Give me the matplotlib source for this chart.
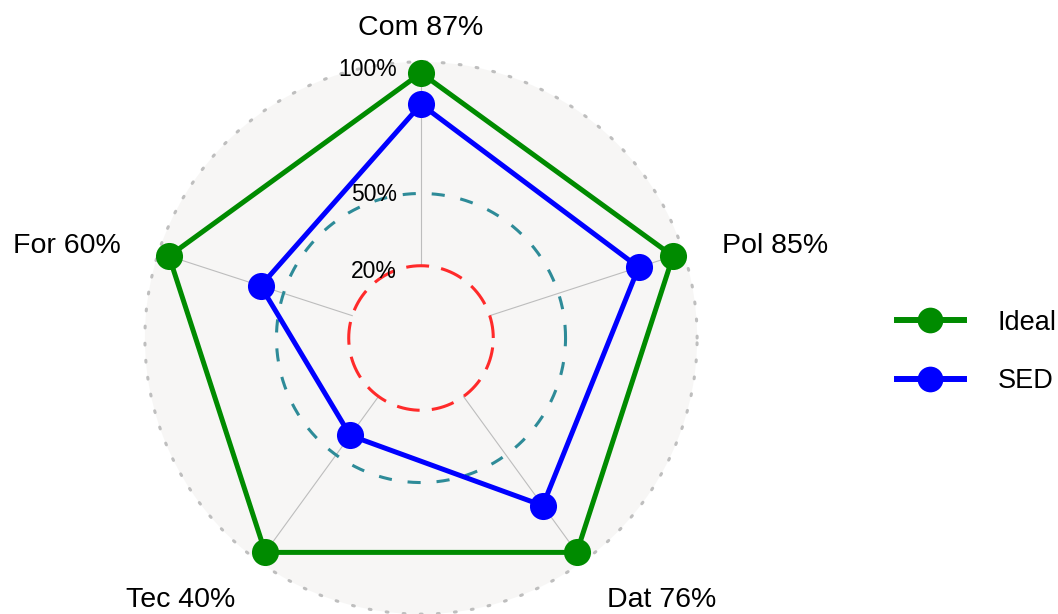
import numpy as np
import matplotlib
matplotlib.use("Agg")
import matplotlib.pyplot as plt
from matplotlib.lines import Line2D
from matplotlib.patches import Circle

# ---- data ----
axes_names = ["Com", "Pol", "Dat", "Tec", "For"]
series_names = ["Ideal", "SED"]
ideal_vals = [1.00, 1.00, 1.00, 1.00, 1.00]
sed_vals = [0.87, 0.85, 0.76, 0.40, 0.60]
grid_vals = [0.20, 0.50, 1.00]
grid_labels = ["20%", "50%", "100%"]

plt.rcParams['font.family'] = ['Liberation Sans', 'DejaVu Sans']

W, H, DPI = 1058, 614, 100
fig = plt.figure(figsize=(W / DPI, H / DPI), dpi=DPI)
ax = fig.add_axes([0, 0, 1, 1])
ax.set_axis_off()

centre = -0.10           # radial value mapped to the centre
R_px = 265.0             # pixel radius of 100%
s = R_px / (1 - centre)  # pixels per unit
cx, cy = 421.0, 338.0
ax.set_xlim(-cx / s, (W - cx) / s)
ax.set_ylim(-(H - cy) / s, cy / s)

def rad(v):
    return np.asarray(v) - centre

n = len(axes_names)
ang = np.pi / 2 - 2 * np.pi * np.arange(n) / n

# background circle
outer = rad(1.0) * 1.042
ax.add_patch(Circle((0, 0), outer, facecolor="#D7D6D1", alpha=0.2, edgecolor="none", zorder=0))
t = np.linspace(0, 2 * np.pi, 600)
ax.plot(outer * np.cos(t), outer * np.sin(t), color="#BEBEBE", lw=2.2,
        linestyle=(0, (0.6, 5.0)), dash_capstyle="round", zorder=1)

# axis lines
for a in ang:
    ax.plot([rad(grid_vals[0]) * np.cos(a), rad(1.0) * np.cos(a)],
            [rad(grid_vals[0]) * np.sin(a), rad(1.0) * np.sin(a)],
            color="#BDBDBD", lw=0.8, zorder=1)

# grid circles
ax.plot(rad(grid_vals[0]) * np.cos(t), rad(grid_vals[0]) * np.sin(t), color="#FF2A2A",
        lw=2.2, linestyle=(0, (7.5, 4)), zorder=2)
ax.plot(rad(grid_vals[1]) * np.cos(t), rad(grid_vals[1]) * np.sin(t), color="#2E8B98",
        lw=2.2, linestyle=(0, (4.3, 5.2)), zorder=2)

# grid labels
label_dy = [-0.022, -0.006, 0.016]
for v, lab, dy in zip(grid_vals, grid_labels, label_dy):
    ax.text(-0.1, rad(v) + dy, lab, ha="right", va="center", fontsize=16.5, zorder=5)

# series
colors = ["#008B00", "#0000FF"]
for vals, col, name in zip([ideal_vals, sed_vals], colors, series_names):
    r = rad(vals)
    x = np.append(r * np.cos(ang), r[0] * np.cos(ang[0]))
    y = np.append(r * np.sin(ang), r[0] * np.sin(ang[0]))
    ax.plot(x, y, color=col, lw=3.6, zorder=3)
    ax.plot(x[:-1], y[:-1], 'o', color=col, ms=19.5, mew=0, zorder=4)

# axis labels
lab_r = 316 / s
lab_off = -6 / s
for i, (a, name) in enumerate(zip(ang, axes_names)):
    txt = f"{name} {int(round(sed_vals[i] * 100))}%"
    c = np.cos(a)
    ha = "center" if abs(c) < 0.1 else ("left" if c > 0 else "right")
    ax.text(lab_r * c, lab_r * np.sin(a) + lab_off, txt, ha=ha, va="center", fontsize=20.5)

handles = [Line2D([], [], color=c, lw=4.3, marker='o', ms=18.5, mew=0) for c in colors]
leg = fig.legend(handles, series_names, loc="center left", bbox_to_anchor=(0.825, 0.427),
                 frameon=False, fontsize=19.5, handlelength=2.45, handletextpad=1.25,
                 labelspacing=1.2)

fig.savefig("out.png", dpi=DPI)
